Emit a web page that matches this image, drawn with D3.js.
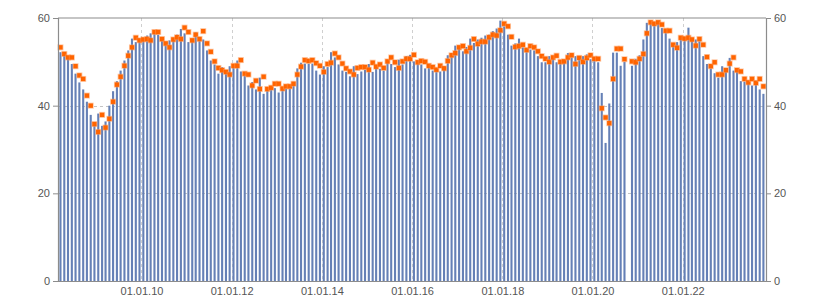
<!DOCTYPE html>
<html>
<head>
<meta charset="utf-8">
<script src="https://cdn.jsdelivr.net/npm/d3@7"></script>
<style>
	body { margin: 0; background: #fff; }
	text { font-family: "Liberation Sans", Arial, sans-serif; font-size: 11px; fill: #555; }
</style>
</head>
<body>
<div id="chart"></div>
<script>
// data
// ----------------------------------------
var firstMonth = new Date(2008, 2, 1), lastMonth = new Date(2023, 9, 1);
var tickYears = [2010, 2012, 2014, 2016, 2018, 2020, 2022];
var yTicks = [0, 20, 40, 60];

// monthly bars (blue)
var barValues = [
	52.2, 51.6, 51.0, 49.5, 47.3, 45.3, 43.7, 40.9, 37.9, 35.4, 38.2, 35.4, 36.4, 40.0, 43.3, 45.6, 48.0, 50.3, 52.6, 55.3,
	54.5, 55.0, 55.2, 56.0, 56.5, 56.5, 56.2, 55.0, 53.8, 54.9, 55.2, 56.2, 57.5, 56.5, 54.5, 54.8, 56.7, 55.5, 55.1, 52.6,
	50.3, 49.4, 47.3, 48.8, 48.0, 49.0, 49.5, 50.3, 47.8, 46.8, 44.6, 45.4, 43.7, 46.4, 42.7, 43.7, 44.3, 44.0, 43.0, 43.7,
	43.9, 43.9, 45.4, 48.5, 49.8, 49.6, 49.6, 49.6, 48.0, 47.1, 49.0, 48.8, 52.2, 51.0, 49.4, 48.0, 47.7, 46.7, 49.0, 47.2,
	47.8, 48.2, 49.5, 47.7, 48.6, 48.4, 48.0, 49.9, 49.5, 48.8, 50.5, 49.4, 51.3, 51.6, 50.1, 49.5, 49.4, 48.5, 48.6, 48.0,
	47.7, 47.8, 49.0, 51.5, 52.0, 53.7, 53.2, 52.4, 53.4, 55.3, 54.3, 55.1, 55.5, 56.0, 56.2, 57.0, 57.6, 59.4, 58.1, 56.2,
	53.7, 54.2, 55.3, 53.3, 52.8, 52.8, 52.6, 51.3, 49.9, 49.9, 51.3, 50.9, 49.9, 50.3, 50.3, 52.0, 51.0, 51.3, 50.7, 51.3,
	51.7, 50.6, 50.4, 49.9, 42.9, 31.5, 40.5, 52.1, 52.1, 49.1, 50.0, null, 49.1, 50.7, 51.5, 55.1, 58.9, 58.9, 58.6, 58.7,
	57.7, 56.9, 55.3, 54.3, 54.5, 55.4, 55.5, 57.8, 55.4, 55.1, 54.7, 51.3, 49.5, 48.5, 47.4, 46.4, 49.0, 48.3, 50.9, 48.0,
	48.2, 45.6, 45.5, 45.2, 44.6, 45.7, 43.7, 42.7
];

// monthly points (orange)
var dotValues = [
	53.3, 51.8, 51.0, 51.0, 49.0, 46.9, 46.1, 42.3, 40.0, 35.8, 34.0, 37.9, 35.0, 37.0, 40.9, 44.8, 46.6, 49.1, 51.4, 53.3,
	55.5, 54.9, 55.1, 55.2, 54.9, 56.8, 56.8, 55.2, 54.2, 53.3, 55.1, 55.6, 55.2, 57.8, 56.8, 54.9, 56.2, 55.2, 57.0, 54.2,
	52.3, 50.1, 48.6, 48.1, 47.7, 47.1, 49.1, 49.1, 50.4, 47.3, 47.1, 44.6, 45.7, 43.8, 46.6, 43.8, 44.1, 45.0, 45.0, 43.9,
	44.4, 44.4, 45.0, 47.1, 48.9, 50.4, 50.2, 50.4, 49.7, 49.1, 47.7, 49.5, 49.8, 51.9, 51.0, 49.6, 48.5, 47.8, 47.1, 48.6,
	48.8, 48.8, 48.2, 49.8, 48.9, 49.4, 48.6, 50.1, 51.0, 49.9, 48.6, 50.1, 50.7, 50.7, 51.6, 49.9, 50.2, 50.0, 49.1, 48.8,
	48.2, 49.1, 48.5, 50.2, 51.5, 52.0, 53.3, 53.6, 52.4, 53.2, 55.2, 54.1, 54.6, 54.6, 55.6, 56.2, 56.0, 57.2, 58.7, 58.1,
	55.7, 53.4, 53.6, 53.9, 52.7, 53.6, 53.3, 52.4, 51.3, 50.7, 50.0, 51.0, 51.4, 50.0, 50.1, 51.0, 51.5, 49.5, 50.9, 50.0,
	50.9, 51.5, 50.7, 50.7, 39.4, 37.3, 36.0, 46.1, 53.0, 53.0, 50.6, null, 50.1, 49.9, 50.7, 51.8, 56.5, 59.0, 58.7, 59.0,
	58.5, 57.1, 57.1, 53.9, 53.2, 55.5, 55.3, 55.5, 55.1, 53.7, 55.2, 53.9, 51.1, 49.0, 49.9, 47.1, 47.1, 48.1, 49.6, 51.0,
	48.1, 47.8, 46.1, 45.3, 46.1, 45.2, 46.1, 44.4
];

// main variables
// ----------------------------------------
var width = 825, height = 300;
var margin = {top: 18, right: 59, bottom: 19, left: 58};
var inner_w = width - margin.left - margin.right,
	inner_h = height - margin.top - margin.bottom;

var months = d3.timeMonth.range(firstMonth, d3.timeMonth.offset(lastMonth, 1));
var data = months.map(function(m, i) {
	return {date: d3.timeDay.offset(m, 15), bar: barValues[i], dot: dotValues[i]};
});

var svg = d3.select("#chart")
	.append("svg")
	.attr("width", width)
	.attr("height", height);

var plot = svg.append("g")
	.attr("transform", "translate(" + margin.left + "," + margin.top + ")");

var x = d3.scaleTime()
	.domain([new Date(2008, 1, 25), new Date(2023, 10, 6)])
	.range([0, inner_w]);

var y = d3.scaleLinear()
	.domain([0, 60])
	.range([inner_h, 0]);

var tickDates = tickYears.map(function(yr) { return new Date(yr, 0, 1); });

// grid
plot.append("g")
	.selectAll("line")
	.data([20, 40])
	.enter().append("line")
	.attr("x1", 0).attr("x2", inner_w)
	.attr("y1", function(d) { return Math.round(y(d)) + 0.5; })
	.attr("y2", function(d) { return Math.round(y(d)) + 0.5; })
	.attr("stroke", "#c4c4c4")
	.attr("stroke-dasharray", "3,3");

plot.append("g")
	.selectAll("line")
	.data(tickDates)
	.enter().append("line")
	.attr("x1", function(d) { return Math.round(x(d)) + 0.5; })
	.attr("x2", function(d) { return Math.round(x(d)) + 0.5; })
	.attr("y1", 0).attr("y2", inner_h)
	.attr("stroke", "#cfcfcf")
	.attr("stroke-dasharray", "3,3");

// bars
var barW = 2.1;
plot.append("g")
	.selectAll("rect")
	.data(data.filter(function(d) { return d.bar != null; }))
	.enter().append("rect")
	.attr("x", function(d) { return x(d.date) - barW / 2; })
	.attr("y", function(d) { return y(d.bar); })
	.attr("width", barW)
	.attr("height", function(d) { return inner_h - y(d.bar); })
	.attr("fill", "#6580b6");

// points
var pts = plot.append("g")
	.selectAll("g")
	.data(data.filter(function(d) { return d.dot != null; }))
	.enter().append("g")
	.attr("transform", function(d) { return "translate(" + x(d.date) + "," + y(d.dot) + ")"; });

pts.append("rect")
	.attr("x", -3).attr("y", -3)
	.attr("width", 6).attr("height", 6)
	.attr("fill", "#ff9c5c")
	.attr("opacity", 0.55);

pts.append("rect")
	.attr("x", -2.2).attr("y", -2.2)
	.attr("width", 4.4).attr("height", 4.4)
	.attr("fill", "#ff6400");

// axes
var frame = plot.append("g").attr("stroke", "#8c8c8c").attr("stroke-width", 1.2);
frame.append("line").attr("x1", 0).attr("x2", inner_w).attr("y1", 0).attr("y2", 0);

var yLeft = plot.append("g")
	.call(d3.axisLeft(y).tickValues(yTicks).tickSize(5).tickPadding(3));
var yRight = plot.append("g")
	.attr("transform", "translate(" + inner_w + ",0)")
	.call(d3.axisRight(y).tickValues(yTicks).tickSize(5).tickPadding(3));
var xAxis = plot.append("g")
	.attr("transform", "translate(0," + inner_h + ")")
	.call(d3.axisBottom(x).tickValues(tickDates).tickFormat(d3.timeFormat("%d.%m.%y")).tickSize(0).tickPadding(6));

[yLeft, yRight, xAxis].forEach(function(a) {
	a.select(".domain").attr("stroke", "#8c8c8c").attr("stroke-width", 1.2);
	a.selectAll(".tick line").attr("stroke", "#8c8c8c");
	a.selectAll("text").attr("font-size", null).attr("font-family", null).attr("fill", "#555");
});
</script>
</body>
</html>
